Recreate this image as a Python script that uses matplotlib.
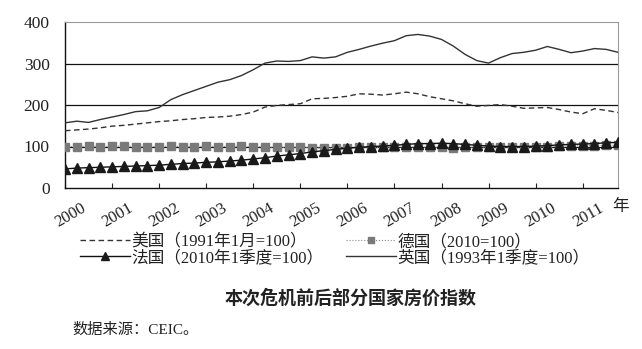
import matplotlib

matplotlib.use("Agg")
import matplotlib.pyplot as plt
import numpy as np

# quarterly index values, 2000Q1 .. 2011Q4
years = list(range(2000, 2012))
us = [138, 140, 142, 145, 149, 151, 154, 157, 160, 162, 165, 167,
      170, 171, 173, 177, 183, 195, 199, 201, 203, 215, 216, 218,
      221, 227, 226, 224, 227, 231, 227, 220, 215, 210, 203, 197,
      199, 201, 197, 192, 193, 194, 189, 183, 179, 191, 187, 182]
germany = [100, 100, 101, 100, 101, 101, 100, 100, 100, 101, 100, 100,
           101, 100, 100, 101, 100, 99, 98, 98, 99, 97, 96, 96,
           97, 98, 98, 98, 98, 99, 99, 98, 98, 97, 98, 98,
           99, 99, 99, 99, 100, 100, 101, 101, 102, 102, 103, 103]
france = [46, 48, 49, 50, 51, 52, 53, 54, 55, 57, 59, 60,
          62, 63, 65, 67, 70, 73, 77, 80, 83, 87, 90, 93,
          96, 98, 100, 101, 103, 105, 107, 107, 108, 107, 105, 103,
          101, 100, 100, 100, 101, 102, 104, 105, 106, 107, 109, 110]
uk = [157, 161, 158, 165, 171, 177, 184, 186, 194, 213, 225, 235,
      245, 255, 261, 271, 285, 301, 306, 305, 307, 316, 313, 316,
      327, 334, 342, 349, 355, 367, 370, 366, 358, 342, 322, 307,
      301, 314, 324, 327, 332, 341, 334, 326, 330, 336, 334, 327]
labels_left = ["美国（1991年1月=100）", "法国（2010年1季度=100）"]
labels_right = ["德国（2010=100）", "英国（1993年1季度=100）"]

SERIF = ["Liberation Serif", "Noto Sans CJK SC"]
INK = "#222222"

x = 2000 + np.arange(len(us)) / 4

fig = plt.figure(figsize=(6.42, 3.49), dpi=100)
ax = fig.add_axes([65 / 642, 1 - 188 / 349, 553 / 642, 166 / 349])

for yv in (100, 200, 300):
    ax.axhline(yv, color="#111111", lw=0.9, zorder=1)

h_us, = ax.plot(x, us, color="#333333", lw=1.0, ls=(0, (4, 2.5)), zorder=3)
h_de, = ax.plot(x, germany, color="#888888", lw=0.8, ls=":", marker="s",
                ms=6, mfc="#7a7a7a", mec="#7a7a7a", zorder=4)
h_fr, = ax.plot(x, france, color="#111111", lw=1.0, marker="^", ms=6.5,
                mfc="#1a1a1a", mec="#1a1a1a", zorder=5)
h_uk, = ax.plot(x, uk, color="#333333", lw=1.0, zorder=3)

ax.set_xlim(2000, 2011.75)
ax.set_ylim(0, 400)
ax.set_yticks([0, 100, 200, 300, 400])
ax.tick_params(axis="y", length=0, pad=11, labelsize=12.5, labelcolor=INK)
for t in ax.get_yticklabels():
    t.set_family(SERIF)

ax.set_xticks(years, minor=True)
ax.set_xticks([yr + 0.5 for yr in years])
ax.set_xticklabels([str(yr) for yr in years], rotation=30, ha="right",
                   va="top", family=SERIF, fontsize=12, color=INK)
ax.tick_params(axis="x", which="major", length=0, pad=9)
ax.tick_params(axis="x", which="minor", direction="in", length=3.5,
               width=0.8, color="#222222")

for side in ("left", "bottom"):
    ax.spines[side].set_color("#111111")
    ax.spines[side].set_linewidth(1.0)
for side in ("top", "right"):
    ax.spines[side].set_color("#9a9a9a")
    ax.spines[side].set_linewidth(0.8)

fig.text(621 / 642, 1 - 207 / 349, "年", family=SERIF, fontsize=12,
         color=INK, ha="center", va="center")

leg_kw = dict(loc="upper left", frameon=False,
              prop={"family": SERIF, "size": 12}, handlelength=3.0,
              handletextpad=0.1, labelspacing=0.0, borderpad=0,
              borderaxespad=0, markerscale=0.8)
leg1 = fig.legend([h_us, h_fr], labels_left,
                  bbox_to_anchor=(80 / 642, 1 - 234 / 349), **leg_kw)
leg2 = fig.legend([h_de, h_uk], labels_right,
                  bbox_to_anchor=(346 / 642, 1 - 234 / 349), **leg_kw)
for leg in (leg1, leg2):
    for t in leg.get_texts():
        t.set_color(INK)

fig.text(351 / 642, 1 - 298 / 349, "本次危机前后部分国家房价指数",
         family="Noto Sans CJK SC", fontweight="bold", fontsize=13,
         color=INK, ha="center", va="center")
fig.text(72 / 642, 1 - 330 / 349, "数据来源：CEIC。", family=SERIF,
         fontsize=11, color=INK, ha="left", va="center")

fig.savefig("out.png", dpi=100, facecolor="white")
